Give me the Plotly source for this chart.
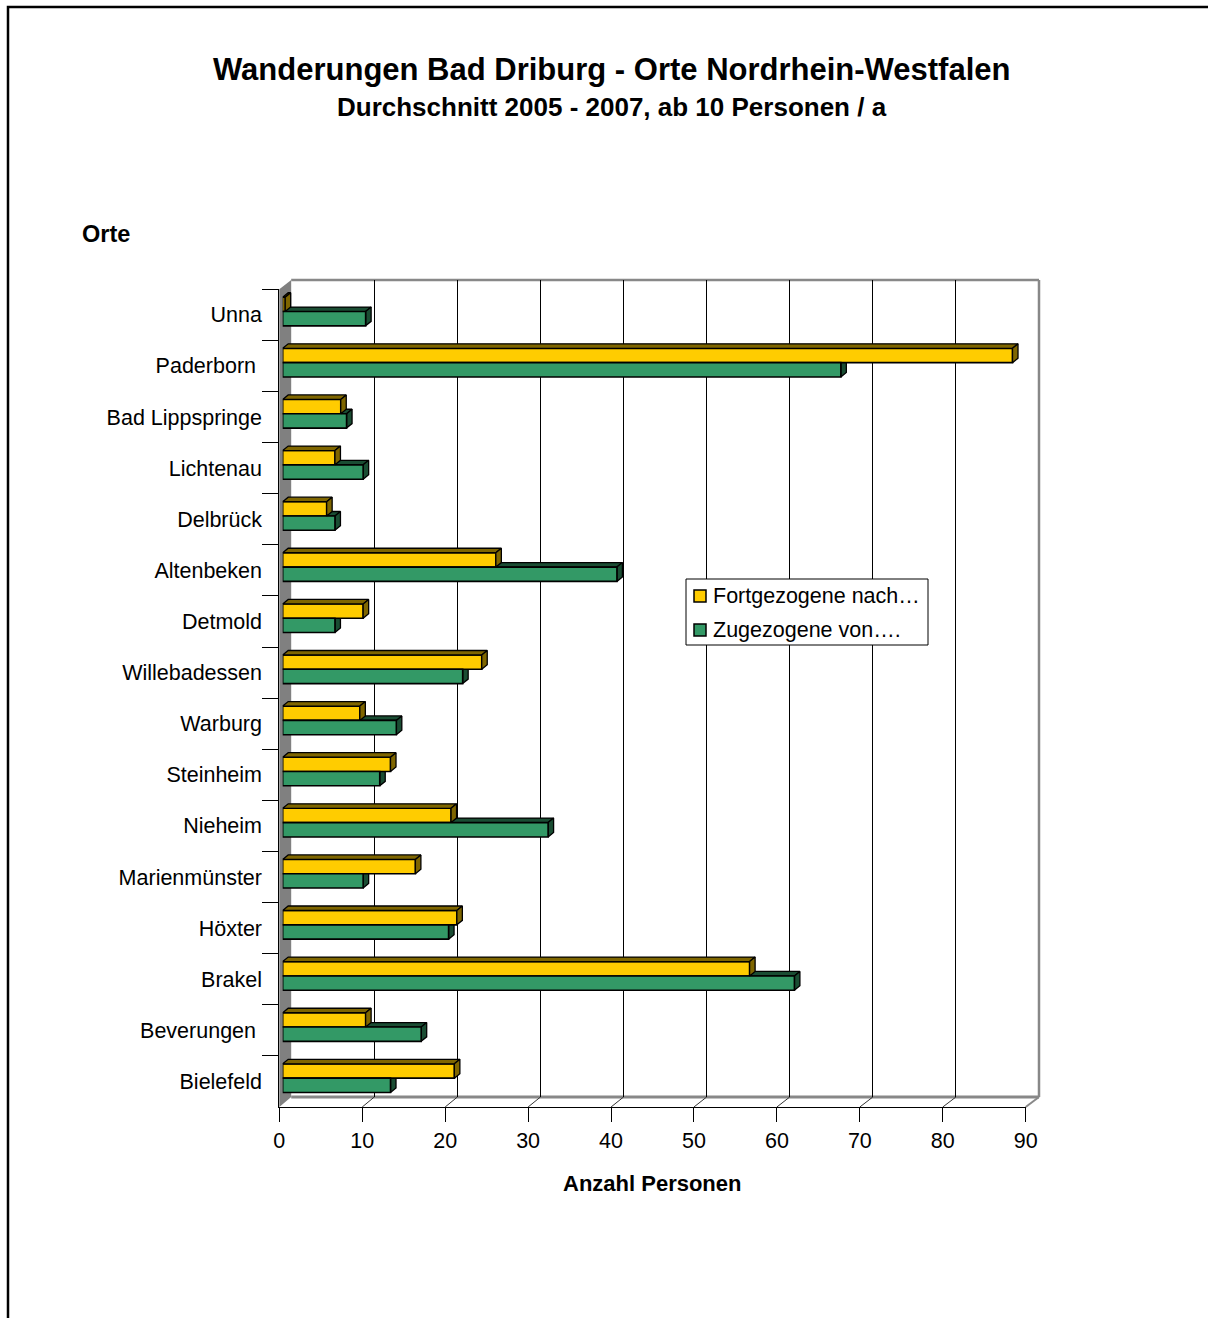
import plotly.graph_objects as go

# ---------------- data ----------------
places = ["Unna", "Paderborn\u00a0", "Bad Lippspringe", "Lichtenau", "Delbrück",
          "Altenbeken", "Detmold", "Willebadessen", "Warburg", "Steinheim",
          "Nieheim", "Marienmünster", "Höxter", "Brakel", "Beverungen\u00a0", "Bielefeld"]
fortgezogene = [0.3, 88.0, 7.0, 6.3, 5.3, 25.7, 9.7, 24.0, 9.3, 13.0,
                20.3, 16.0, 21.0, 56.3, 10.0, 20.7]
zugezogene = [10.0, 67.3, 7.7, 9.7, 6.3, 40.3, 6.3, 21.7, 13.7, 11.7,
              32.0, 9.7, 20.0, 61.7, 16.7, 13.0]
x_ticks = [0, 10, 20, 30, 40, 50, 60, 70, 80, 90]
series_names = ["Fortgezogene nach…", "Zugezogene von…."]

# ---------------- geometry (pixels) ----------------
W, H = 1208, 1318
def px(x): return x / W
def py(y): return 1 - y / H

FX0, FX90 = 279.3, 1025.7      # front plane x for 0 / 90
FYT, FYB = 289.3, 1107.0       # front plane top / bottom
BX0, BX90 = 291.2, 1039.0      # back wall x for 0 / 90
BYT, BYB = 280.0, 1097.0       # back wall top / bottom
BAR_DX, BAR_DY = 3.4, -3.3     # bar plane offset from front plane
DEPTH_X, DEPTH_Y = 5.5, 4.5    # bar extrusion

YELLOW, YELLOW_D = "#FFCC00", "#7F6600"
GREEN, GREEN_D = "#339966", "#1A4D33"
FONT = "Arial, Liberation Sans, sans-serif"

n = len(places)
xmax = x_ticks[-1]
sx = (FX90 - FX0) / xmax
sy = (FYB - FYT) / n
dxu = DEPTH_X / sx
dyu = DEPTH_Y / sy
hb = 0.28

y_yel = [i - hb / 2 for i in range(n)]
y_grn = [i + hb / 2 for i in range(n)]


def faces(vals, centers):
    tx, ty, sx_, sy_ = [], [], [], []
    for v, c in zip(vals, centers):
        yt, yb = c - hb / 2, c + hb / 2
        tx += [0, v, v + dxu, dxu, 0, None]
        ty += [yt, yt, yt - dyu, yt - dyu, yt, None]
        sx_ += [v, v + dxu, v + dxu, v, v, None]
        sy_ += [yt, yt - dyu, yb - dyu, yb, yt, None]
    return tx, ty, sx_, sy_


fig = go.Figure()

# back wall (grid) subplot
fig.add_trace(go.Scatter(x=[0, xmax], y=[0, 1], mode="markers", marker=dict(opacity=0),
                         xaxis="x", yaxis="y", showlegend=False, hoverinfo="skip"))

# green extrusion faces (below bars)
gtx, gty, gsx, gsy = faces(zugezogene, y_grn)
for xx, yy in ((gtx, gty), (gsx, gsy)):
    fig.add_trace(go.Scatter(x=xx, y=yy, mode="lines", fill="toself", fillcolor=GREEN_D,
                             line=dict(color="black", width=1.3), xaxis="x2", yaxis="y2",
                             showlegend=False, hoverinfo="skip"))

# front bars
fig.add_trace(go.Bar(x=fortgezogene, y=y_yel, orientation="h", width=hb, name=series_names[0],
                     marker=dict(color=YELLOW, line=dict(color="black", width=1.6)),
                     xaxis="x3", yaxis="y3", showlegend=False))
fig.add_trace(go.Bar(x=zugezogene, y=y_grn, orientation="h", width=hb, name=series_names[1],
                     marker=dict(color=GREEN, line=dict(color="black", width=1.6)),
                     xaxis="x3", yaxis="y3", showlegend=False))

# yellow extrusion faces (scatter layer is above bars in same subplot)
ytx, yty, ysx, ysy = faces(fortgezogene, y_yel)
for xx, yy in ((ytx, yty), (ysx, ysy)):
    fig.add_trace(go.Scatter(x=xx, y=yy, mode="lines", fill="toself", fillcolor=YELLOW_D,
                             line=dict(color="black", width=1.3), xaxis="x3", yaxis="y3",
                             showlegend=False, hoverinfo="skip"))

# front axes (labels)
fig.add_trace(go.Scatter(x=fortgezogene, y=places, mode="markers", marker=dict(opacity=0),
                         xaxis="x4", yaxis="y4", showlegend=False, hoverinfo="skip"))

hidden = dict(visible=False, fixedrange=True, automargin=False)
bar_xdom = [px(FX0 + BAR_DX), px(FX90 + BAR_DX)]
bar_ydom = [py(FYB + BAR_DY), py(FYT + BAR_DY)]

fig.update_layout(
    width=W, height=H, autosize=False,
    margin=dict(l=0, r=0, t=0, b=0, pad=0, autoexpand=False),
    paper_bgcolor="white", plot_bgcolor="rgba(0,0,0,0)",
    barmode="overlay",
    font=dict(family=FONT, color="black", size=21.5),
    showlegend=False,
    xaxis=dict(domain=[px(BX0), px(BX90)], range=[0, xmax], tickvals=x_ticks[1:-1],
               showgrid=True, gridcolor="black", gridwidth=1, showticklabels=False,
               ticks="", zeroline=False, showline=False, anchor="y", fixedrange=True,
               automargin=False),
    yaxis=dict(domain=[py(BYB), py(BYT)], range=[0, 1], showgrid=False, zeroline=False,
               showticklabels=False, ticks="", showline=False, anchor="x", fixedrange=True,
               automargin=False),
    xaxis2=dict(domain=bar_xdom, range=[0, xmax], anchor="y2", **hidden),
    yaxis2=dict(domain=bar_ydom, range=[n - 0.5, -0.5], anchor="x2", **hidden),
    xaxis3=dict(domain=bar_xdom, range=[0, xmax], anchor="y3", **hidden),
    yaxis3=dict(domain=bar_ydom, range=[n - 0.5, -0.5], anchor="x3", **hidden),
    xaxis4=dict(domain=[px(FX0), px(FX90)], range=[0, xmax], tickvals=x_ticks,
                ticks="outside", ticklen=14, tickcolor="black", tickwidth=1,
                showline=True, linecolor="black", linewidth=1, showgrid=False,
                zeroline=False, anchor="y4", fixedrange=True, automargin=False,
                tickfont=dict(size=21.5, family=FONT)),
    yaxis4=dict(domain=[py(FYB), py(FYT)], type="category", categoryorder="array",
                categoryarray=places, range=[n - 0.5, -0.5], tickson="boundaries",
                ticks="outside", ticklen=16, tickcolor="black", tickwidth=1,
                ticklabelstandoff=12,
                showline=True, linecolor="black", linewidth=1, showgrid=False,
                zeroline=False, anchor="x4", fixedrange=True, automargin=False,
                tickfont=dict(size=21.5, family=FONT)),
)

shapes = []
# outer frame
shapes.append(dict(type="rect", xref="paper", yref="paper", x0=px(8), y0=py(7), x1=1.05, y1=-0.05,
                   line=dict(color="black", width=2.5), layer="above"))
# left wall
shapes.append(dict(type="path", xref="paper", yref="paper",
                   path=f"M {px(FX0)},{py(FYT)} L {px(BX0)},{py(BYT)} L {px(BX0)},{py(BYB)} L {px(FX0)},{py(FYB)} Z",
                   fillcolor="#808080", line=dict(width=0), layer="below"))
# back wall borders
shapes.append(dict(type="line", xref="paper", yref="paper", x0=px(BX0), y0=py(BYT), x1=px(BX90), y1=py(BYT),
                   line=dict(color="#888888", width=2.5), layer="below"))
shapes.append(dict(type="line", xref="paper", yref="paper", x0=px(BX90), y0=py(BYT), x1=px(BX90), y1=py(BYB),
                   line=dict(color="#888888", width=2.5), layer="below"))
# floor
shapes.append(dict(type="line", xref="paper", yref="paper", x0=px(BX0), y0=py(BYB), x1=px(BX90), y1=py(BYB),
                   line=dict(color="#888888", width=3), layer="below"))
shapes.append(dict(type="line", xref="paper", yref="paper", x0=px(FX90), y0=py(FYB), x1=px(BX90), y1=py(BYB),
                   line=dict(color="#888888", width=2), layer="below"))
sb = (BX90 - BX0) / xmax
for v in x_ticks[1:-1]:
    shapes.append(dict(type="line", xref="paper", yref="paper",
                       x0=px(FX0 + v * sx), y0=py(FYB), x1=px(BX0 + v * sb), y1=py(BYB),
                       line=dict(color="#333333", width=1), layer="below"))

# legend (box, swatches, labels)
LEG_L, LEG_R, LEG_T, LEG_B = 686, 928, 579, 645
leg_rows = [596, 630]
leg_cols = [YELLOW, GREEN]
shapes.append(dict(type="rect", xref="paper", yref="paper", x0=px(LEG_L), x1=px(LEG_R),
                   y0=py(LEG_B), y1=py(LEG_T), fillcolor="white",
                   line=dict(color="black", width=1), layer="above"))
for yc, col in zip(leg_rows, leg_cols):
    shapes.append(dict(type="rect", xref="paper", yref="paper", x0=px(694), x1=px(706),
                       y0=py(yc + 6), y1=py(yc - 6), fillcolor=col,
                       line=dict(color="black", width=1.5), layer="above"))
fig.update_layout(shapes=shapes)

ann = [
    dict(text="<b>Wanderungen Bad Driburg - Orte Nordrhein-Westfalen</b>", x=px(611.5), y=py(70),
         font=dict(size=31, family=FONT)),
    dict(text="<b>Durchschnitt 2005 - 2007, ab 10 Personen / a</b>", x=px(611.5), y=py(107),
         font=dict(size=26, family=FONT)),
    dict(text="<b>Orte</b>", x=px(80), y=py(234), xanchor="left", font=dict(size=23.5, family=FONT)),
    dict(text="<b>Anzahl Personen</b>", x=px(652), y=py(1183), font=dict(size=22, family=FONT)),
]
for yc, name in zip(leg_rows, series_names):
    ann.append(dict(text=name, x=px(711), y=py(yc), xanchor="left", font=dict(size=21.5, family=FONT)))
for a in ann:
    a.setdefault("xanchor", "center")
    a.update(xref="paper", yref="paper", yanchor="middle", showarrow=False)
fig.update_layout(annotations=ann)

fig.write_html("out.html")
